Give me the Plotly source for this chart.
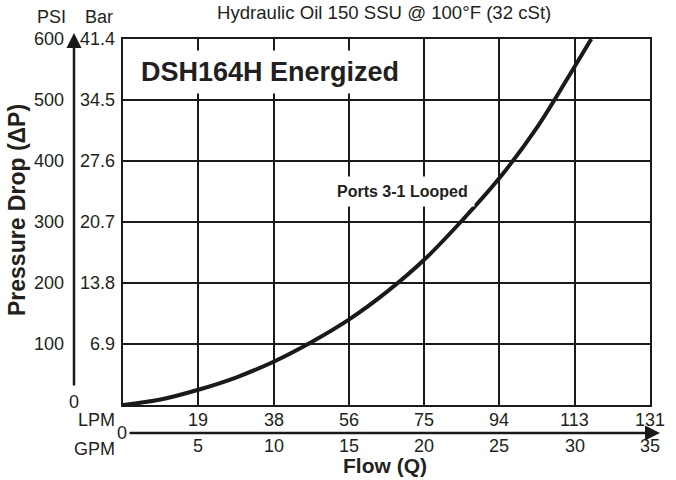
import plotly.graph_objects as go

# Data
flow_gpm = [0, 2.5, 5, 7.5, 10, 12.5, 15, 17.5, 20, 22.5, 25, 27.5, 30, 31.1]
pressure_psi = [0, 9, 25, 45, 71, 103, 140, 185, 238, 302, 372, 455, 555, 600]

gpm_ticks = [5, 10, 15, 20, 25, 30, 35]
lpm_labels = ["19", "38", "56", "75", "94", "113", "131"]
psi_ticks = [100, 200, 300, 400, 500, 600]
bar_labels = ["6.9", "13.8", "20.7", "27.6", "34.5", "41.4"]

FONT = "Liberation Sans, Arial, Helvetica, sans-serif"
TXT = "#231f20"
W, H = 676, 480
# plot area in pixels: x 123..650, y 39..405
L, T = 123, 39
R = W - 650
B = H - 405
PW, PH = W - L - R, H - T - B


def px(xs):
    return (xs - L) / PW


def py(ys):
    return (H - B - ys) / PH


fig = go.Figure()
fig.add_trace(go.Scatter(x=flow_gpm, y=pressure_psi, mode="lines",
                         line=dict(color="#1a1a1a", width=4, shape="spline", smoothing=1.0),
                         hoverinfo="skip", showlegend=False))


def txt(x, y, s, size=18, xanchor="center", xref="paper", yref="paper", **kw):
    return dict(x=x, y=y, xref=xref, yref=yref, text=s, xanchor=xanchor,
                yanchor="middle", showarrow=False,
                font=dict(size=size, color=TXT, family=FONT), **kw)


ann = []
# y tick labels (PSI and Bar)
for v, b in zip(psi_ticks, bar_labels):
    ann.append(txt(px(66), v, str(v), xanchor="right", yref="y"))
    ann.append(txt(px(117), v, b, xanchor="right", yref="y"))
ann.append(txt(px(74), py(402), "0"))
# headers
ann.append(txt(px(51), py(17), "PSI"))
ann.append(txt(px(99), py(17), "Bar"))
ann.append(txt(px(384), py(13), "Hydraulic Oil 150 SSU @ 100°F (32 cSt)", size=18.6))
# x tick labels
for g, l in zip(gpm_ticks, lpm_labels):
    ann.append(txt(g, py(420), l, xref="x"))
    ann.append(txt(g, py(446), str(g), xref="x"))
ann.append(txt(px(117), py(420), "LPM", xanchor="right"))
ann.append(txt(px(117), py(449), "GPM", xanchor="right"))
ann.append(txt(px(122), py(433), "0"))
# axis titles
ann.append(txt(px(385), py(465), "<b>Flow (Q)</b>", size=21))
ann.append(txt(px(17), py(210), "<b>Pressure Drop (ΔP)</b>", size=23, textangle=-90))
# in-plot labels
ann.append(txt(px(270), py(72), "<b>DSH164H Energized</b>", size=27,
               bgcolor="white", borderpad=6))
ann.append(txt(px(402), py(191), "<b>Ports 3-1 Looped</b>", size=16,
               bgcolor="white", borderpad=6))
# axis arrows
ann.append(dict(x=px(74), y=py(33), ax=0, ay=354, xref="paper", yref="paper",
                axref="pixel", ayref="pixel", text="", showarrow=True,
                arrowhead=2, arrowsize=1.2, arrowwidth=2.5, arrowcolor="#1a1a1a"))
ann.append(dict(x=px(660), y=py(433), ax=-532, ay=0, xref="paper", yref="paper",
                axref="pixel", ayref="pixel", text="", showarrow=True,
                arrowhead=2, arrowsize=1.2, arrowwidth=2.5, arrowcolor="#1a1a1a"))

fig.update_layout(
    width=W, height=H,
    margin=dict(l=L, r=R, t=T, b=B, pad=0),
    paper_bgcolor="white", plot_bgcolor="white",
    annotations=ann,
    xaxis=dict(range=[0, 35], tickvals=gpm_ticks, showticklabels=False, ticks="",
               showgrid=True, gridcolor="#1a1a1a", gridwidth=2, zeroline=False,
               showline=True, linecolor="#1a1a1a", linewidth=2, mirror=True),
    yaxis=dict(range=[0, 600], tickvals=psi_ticks, showticklabels=False, ticks="",
               showgrid=True, gridcolor="#1a1a1a", gridwidth=2, zeroline=False,
               showline=True, linecolor="#1a1a1a", linewidth=2, mirror=True),
)

fig.write_html("out.html", config={"displayModeBar": False},
               post_script="document.body.style.margin='0px';")
